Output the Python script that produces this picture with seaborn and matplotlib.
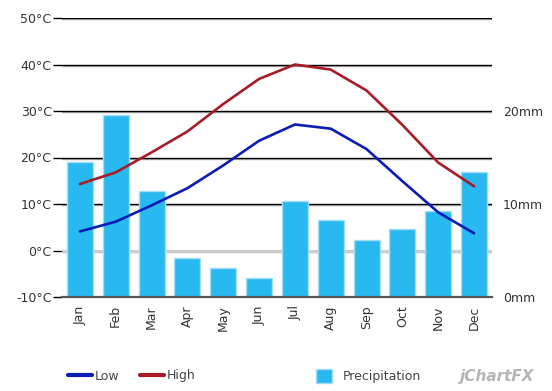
import matplotlib
matplotlib.use("Agg")
import matplotlib.pyplot as plt
import matplotlib.patheffects as pe
from matplotlib.lines import Line2D
from matplotlib.patches import Patch
import numpy as np
import pandas as pd
import seaborn as sns

months = ["Jan", "Feb", "Mar", "Apr", "May", "Jun",
          "Jul", "Aug", "Sep", "Oct", "Nov", "Dec"]
low_c = [4.1, 6.2, 9.7, 13.4, 18.3, 23.6, 27.1, 26.2, 21.8, 14.9, 8.2, 3.7]
high_c = [14.3, 16.8, 21.1, 25.6, 31.5, 36.9, 40.0, 38.9, 34.4, 27.0, 18.9, 13.8]
precip_mm = [14.5, 19.6, 11.4, 4.2, 3.1, 2.0, 10.3, 8.3, 6.1, 7.3, 9.3, 13.4]

temp_ticks = [-10, 0, 10, 20, 30, 40, 50]
mm_ticks = [0, 10, 20]

df = pd.DataFrame({"month": months, "low": low_c, "high": high_c, "precip": precip_mm})

sns.set_style("white")
plt.rcParams["font.family"] = ["DejaVu Sans"]
txt = "#333333"

fig = plt.figure(figsize=(5.52, 3.91), dpi=100)
ax = fig.add_axes([62 / 552, 1 - 297 / 391, 430 / 552, 279 / 391])
ax2 = ax.twinx()
ax3 = ax.twinx()

# background grid on the temperature axis
ax.set_ylim(-10, 50)
ax.set_yticks(temp_ticks, [f"{t}°C" for t in temp_ticks])
ax.grid(axis="y", color="black", linewidth=1,
        path_effects=[pe.SimpleLineShadow(offset=(0, -0.9), shadow_color="#999999", alpha=0.8),
                      pe.Normal()])
ax.grid(axis="x", visible=False)
ax.axhline(0, color="#cccccc", linewidth=2.2)
ax.tick_params(axis="y", length=6.5, width=1, color="black", pad=1, labelsize=9, labelcolor=txt)
ax.tick_params(axis="x", length=0, pad=6, labelsize=9, labelcolor=txt, labelrotation=90)
for s in ax.spines.values():
    s.set_visible(False)

# precipitation bars
sns.barplot(data=df, x="month", y="precip", ax=ax2, color="#27b9f0",
            saturation=1, width=0.73, edgecolor="#a5ddf6", linewidth=1)
ax2.set_ylim(0, 30)
ax2.set_yticks(mm_ticks, [f"{m}mm" for m in mm_ticks])
ax2.tick_params(axis="y", length=0, pad=8, labelsize=9, labelcolor=txt)
ax2.set_ylabel("")
for s in ax2.spines.values():
    s.set_visible(False)

# temperature lines
sns.lineplot(x=np.arange(12), y=df["low"], ax=ax3, color="#0b1cb8", linewidth=1.9)
sns.lineplot(x=np.arange(12), y=df["high"], ax=ax3, color="#a81c25", linewidth=1.9)
ax3.set_ylim(-10, 50)
ax3.set_yticks([])
ax3.set_ylabel("")
for s in ax3.spines.values():
    s.set_visible(False)
ax3.spines["bottom"].set_visible(True)
ax3.spines["bottom"].set_color("#555555")
ax3.spines["bottom"].set_linewidth(1.6)

ax.set_xlim(-0.5, 11.5)
ax.set_xticks(range(12), months)
ax.set_xlabel("")
ax.set_ylabel("")

# legend
leg_kw = dict(frameon=False, fontsize=9, loc="center left", borderpad=0,
              borderaxespad=0, labelcolor="#444444")
ly = 1 - 376 / 391
fig.legend([Line2D([], [], color="#0b1cb8", linewidth=3)], ["Low"],
           bbox_to_anchor=(68 / 552, ly), handlelength=1.9, handletextpad=0.25, **leg_kw)
fig.legend([Line2D([], [], color="#a81c25", linewidth=3)], ["High"],
           bbox_to_anchor=(140 / 552, ly), handlelength=1.9, handletextpad=0.25, **leg_kw)
fig.legend([Patch(facecolor="#27b9f0", edgecolor="#a5ddf6")], ["Precipitation"],
           bbox_to_anchor=(316 / 552, ly), handlelength=1.3, handleheight=1.3,
           handletextpad=0.8, **leg_kw)
fig.text(460 / 552, ly, "jChartFX", fontsize=11, fontstyle="italic", fontweight="bold",
         color="#b5b5b5", va="center", ha="left")

fig.savefig("out.png", dpi=100)
